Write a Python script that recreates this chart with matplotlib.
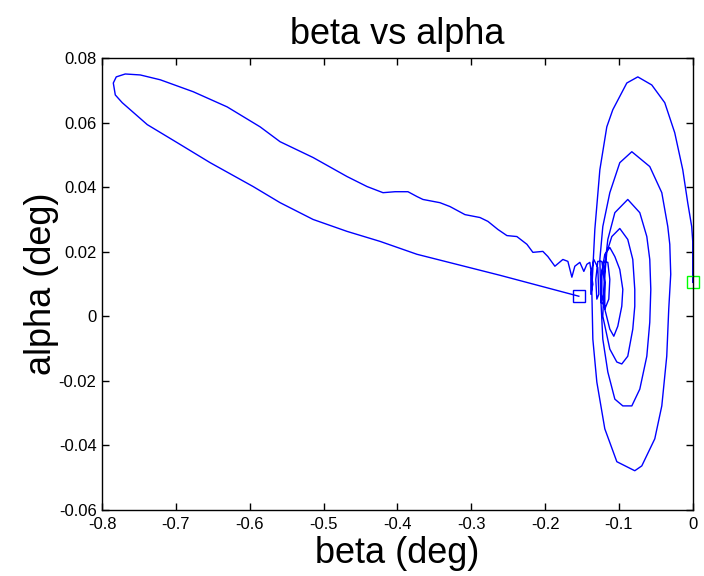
import numpy as np
import matplotlib.pyplot as plt

# trajectory of the sideslip / attack angles (deg), first point = start
beta = [0.0, 0.0, 0.0, -0.0014, -0.0068, -0.0135, -0.0244, -0.0379, -0.0555, -0.0744,
        -0.0893, -0.1083, -0.1164, -0.1258, -0.1326, -0.1367, -0.1353, -0.1299, -0.1191, -0.1028,
        -0.0785, -0.0690, -0.0514, -0.0419, -0.0352, -0.0325, -0.0298, -0.0311, -0.0338, -0.0419,
        -0.0582, -0.0825, -0.0988, -0.1123, -0.1218, -0.1258, -0.1245, -0.1218, -0.1150, -0.1055,
        -0.0947, -0.0825, -0.0717, -0.0622, -0.0582, -0.0568, -0.0582, -0.0622, -0.0717, -0.0880,
        -0.1055, -0.1150, -0.1191, -0.1204, -0.1218, -0.1123, -0.1028, -0.0961, -0.0880, -0.0812,
        -0.0785, -0.0785, -0.0812, -0.0880, -0.0988, -0.1096, -0.1164, -0.1191, -0.1191, -0.1123,
        -0.1069, -0.1015, -0.0961, -0.0947, -0.0988, -0.1055, -0.1123, -0.1191, -0.1231, -0.1231,
        -0.1191, -0.1137, -0.1123, -0.1150, -0.1204, -0.1245, -0.1245, -0.1204, -0.1191, -0.1231,
        -0.1286, -0.1313, -0.1299, -0.1272, -0.1286, -0.1340, -0.1380, -0.1380, -0.1353, -0.1394,
        -0.1434, -0.1475, -0.1529, -0.1597, -0.1637, -0.1691, -0.1759, -0.1867, -0.1962, -0.2030,
        -0.2165, -0.2246, -0.2382, -0.2517, -0.2639, -0.2774, -0.2882, -0.3085, -0.3288, -0.3424,
        -0.3654, -0.3735, -0.3857, -0.4032, -0.4195, -0.4411, -0.4682, -0.5142, -0.5589, -0.5859,
        -0.6306, -0.6766, -0.7212, -0.7483, -0.7686, -0.7808, -0.7848, -0.7821, -0.7727, -0.7618,
        -0.7388, -0.6982, -0.6536, -0.5954, -0.5589, -0.5142, -0.4682, -0.4235, -0.3735, -0.2612,
        -0.1543]
alpha = [0.0105, 0.0170, 0.0232, 0.0278, 0.0352, 0.0454, 0.0569, 0.0662, 0.0717, 0.0742,
         0.0723, 0.0640, 0.0587, 0.0454, 0.0269, 0.0083, -0.0071, -0.0204, -0.0349, -0.0451,
         -0.0479, -0.0464, -0.0380, -0.0278, -0.0124, 0.0022, 0.0130, 0.0223, 0.0278, 0.0383,
         0.0464, 0.0510, 0.0476, 0.0383, 0.0278, 0.0176, 0.0053, -0.0071, -0.0173, -0.0257,
         -0.0278, -0.0278, -0.0226, -0.0124, -0.0019, 0.0083, 0.0176, 0.0247, 0.0321, 0.0362,
         0.0321, 0.0238, 0.0155, 0.0083, 0.0000, -0.0102, -0.0142, -0.0148, -0.0124, -0.0040,
         0.0031, 0.0083, 0.0176, 0.0238, 0.0272, 0.0247, 0.0198, 0.0130, 0.0022, -0.0040,
         -0.0062, -0.0031, 0.0031, 0.0083, 0.0145, 0.0185, 0.0213, 0.0192, 0.0139, 0.0068,
         0.0022, 0.0053, 0.0114, 0.0167, 0.0170, 0.0114, 0.0043, 0.0037, 0.0105, 0.0170,
         0.0170, 0.0114, 0.0053, 0.0068, 0.0151, 0.0176, 0.0130, 0.0068, 0.0099, 0.0167,
         0.0161, 0.0139, 0.0167, 0.0155, 0.0121, 0.0170, 0.0176, 0.0155, 0.0185, 0.0201,
         0.0198, 0.0223, 0.0247, 0.0250, 0.0269, 0.0294, 0.0306, 0.0315, 0.0340, 0.0352,
         0.0362, 0.0371, 0.0386, 0.0386, 0.0383, 0.0402, 0.0433, 0.0492, 0.0541, 0.0587,
         0.0649, 0.0696, 0.0733, 0.0748, 0.0751, 0.0742, 0.0723, 0.0686, 0.0662, 0.0640,
         0.0594, 0.0538, 0.0476, 0.0402, 0.0352, 0.0300, 0.0263, 0.0232, 0.0192, 0.0127,
         0.0062]

xticks = np.arange(-0.8, 0.01, 0.1)
yticks = np.arange(-0.06, 0.081, 0.02)
xticklabels = ['-0.8', '-0.7', '-0.6', '-0.5', '-0.4', '-0.3', '-0.2', '-0.1', '0']
yticklabels = ['-0.06', '-0.04', '-0.02', '0', '0.02', '0.04', '0.06', '0.08']

plt.rcParams['font.family'] = ['Liberation Sans', 'DejaVu Sans']

fig = plt.figure(figsize=(7.04, 5.76), dpi=100)
ax = fig.add_axes([0.145, 0.115, 0.839, 0.784])

ax.plot(beta, alpha, color=(0, 0, 1), lw=1.0)
ax.plot(beta[0], alpha[0], 's', ms=8, mfc='none', mec=(0, 1, 0), mew=1.0, clip_on=False)
ax.plot(beta[-1], alpha[-1], 's', ms=8, mfc='none', mec=(0, 0, 1), mew=1.0)

ax.set_xlim(-0.8, 0)
ax.set_ylim(-0.06, 0.08)
ax.set_xticks(xticks)
ax.set_xticklabels(xticklabels)
ax.set_yticks(yticks)
ax.set_yticklabels(yticklabels)
ax.tick_params(direction='in', length=5, width=1, top=True, right=True,
               labelsize=12)
ax.tick_params(axis='x', pad=5)
ax.tick_params(axis='y', pad=4)
for lbl in ax.get_xticklabels() + ax.get_yticklabels():
    lbl.set_family(['Liberation Sans Narrow', 'Liberation Sans'])
for s in ax.spines.values():
    s.set_linewidth(1.0)

ax.set_title('beta vs alpha', fontsize=26, pad=10)
ax.set_xlabel('beta (deg)', fontsize=26, labelpad=3)
ax.set_ylabel('alpha (deg)', fontsize=26, labelpad=0)

plt.savefig('out.png', dpi=100)
